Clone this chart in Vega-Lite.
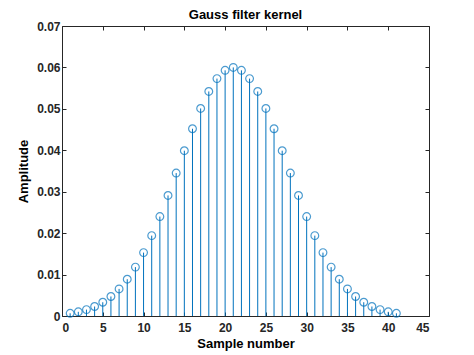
{
  "$schema": "https://vega.github.io/schema/vega-lite/v6.json",
  "autosize": {"type": "none"},
  "padding": {"left": 62, "top": 26, "right": 45, "bottom": 39},
  "width": 367,
  "height": 290,
  "background": "white",
  "title": {"text": "Gauss filter kernel", "fontSize": 13, "fontWeight": "bold", "font": "Liberation Sans", "color": "#000000", "offset": -2, "anchor": "middle"},
  "config": {
    "view": {"stroke": null},
    "axis": {"labelFont": "Liberation Sans", "labelFontSize": 12, "labelFontWeight": "bold", "labelColor": "#262626", "titleFont": "Liberation Sans", "titleFontSize": 13, "titleFontWeight": "bold", "titleColor": "#000000", "domainColor": "#262626", "tickColor": "#262626", "grid": false, "tickSize": -4, "labelPadding": 6}
  },
  "data": {"values": [
    {"n": 1, "v": 0.00065}, {"n": 2, "v": 0.00101}, {"n": 3, "v": 0.00154}, {"n": 4, "v": 0.00229}, {"n": 5, "v": 0.00332},
    {"n": 6, "v": 0.00471}, {"n": 7, "v": 0.00654}, {"n": 8, "v": 0.00888}, {"n": 9, "v": 0.0118}, {"n": 10, "v": 0.0153},
    {"n": 11, "v": 0.0194}, {"n": 12, "v": 0.0240}, {"n": 13, "v": 0.0291}, {"n": 14, "v": 0.0345}, {"n": 15, "v": 0.0399},
    {"n": 16, "v": 0.0452}, {"n": 17, "v": 0.0501}, {"n": 18, "v": 0.0542}, {"n": 19, "v": 0.0573}, {"n": 20, "v": 0.0593},
    {"n": 21, "v": 0.0600},
    {"n": 22, "v": 0.0593}, {"n": 23, "v": 0.0573}, {"n": 24, "v": 0.0542}, {"n": 25, "v": 0.0501}, {"n": 26, "v": 0.0452},
    {"n": 27, "v": 0.0399}, {"n": 28, "v": 0.0345}, {"n": 29, "v": 0.0291}, {"n": 30, "v": 0.0240}, {"n": 31, "v": 0.0194},
    {"n": 32, "v": 0.0153}, {"n": 33, "v": 0.0118}, {"n": 34, "v": 0.00888}, {"n": 35, "v": 0.00654}, {"n": 36, "v": 0.00471},
    {"n": 37, "v": 0.00332}, {"n": 38, "v": 0.00229}, {"n": 39, "v": 0.00154}, {"n": 40, "v": 0.00101}, {"n": 41, "v": 0.00065}
  ]},
  "layer": [
    {
      "mark": {"type": "rule", "color": "#0072BD", "strokeWidth": 1},
      "encoding": {
        "x": {"field": "n", "type": "quantitative", "scale": {"domain": [0, 45], "nice": false}, "axis": {"title": "Sample number", "values": [0, 5, 10, 15, 20, 25, 30, 35, 40, 45], "labelPadding": 10, "titlePadding": 4}},
        "y": {"field": "v", "type": "quantitative", "scale": {"domain": [0, 0.07], "nice": false}, "axis": {"title": "Amplitude", "values": [0, 0.01, 0.02, 0.03, 0.04, 0.05, 0.06, 0.07], "format": ".2~f", "labelPadding": 6, "titlePadding": 6}},
        "y2": {"datum": 0}
      }
    },
    {
      "mark": {"type": "point", "shape": "circle", "filled": false, "color": "#0072BD", "size": 60, "strokeWidth": 1.2},
      "encoding": {
        "x": {"field": "n", "type": "quantitative", "axis": {"orient": "top", "labels": false, "title": null, "values": [0, 5, 10, 15, 20, 25, 30, 35, 40, 45]}},
        "y": {"field": "v", "type": "quantitative", "axis": {"orient": "right", "labels": false, "title": null, "values": [0, 0.01, 0.02, 0.03, 0.04, 0.05, 0.06, 0.07]}}
      }
    }
  ],
  "resolve": {"axis": {"x": "independent", "y": "independent"}}
}
